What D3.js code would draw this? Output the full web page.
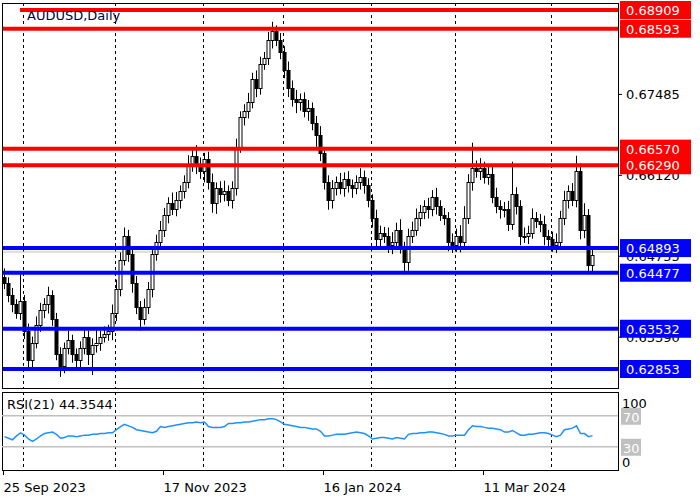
<!DOCTYPE html>
<html><head><meta charset="utf-8">
<script src="https://cdn.jsdelivr.net/npm/d3@7"></script>
<style>body{margin:0;background:#fff}svg{display:block}</style>
</head><body>
<svg id="c" width="700" height="500"></svg>
<script>
const closes=[0.6430,0.6410,0.6395,0.6380,0.6400,0.6350,0.6300,0.6330,0.6360,0.6385,
0.6395,0.6410,0.6370,0.6310,0.6290,0.6320,0.6335,0.6310,0.6300,0.6320,
0.6340,0.6310,0.6325,0.6330,0.6340,0.6345,0.6350,0.6380,0.6420,0.6470,
0.6510,0.6480,0.6430,0.6390,0.6370,0.6390,0.6420,0.6480,0.6500,0.6520,
0.6545,0.6565,0.6555,0.6570,0.6585,0.6600,0.6630,0.6645,0.6630,0.6620,
0.6640,0.6600,0.6565,0.6590,0.6580,0.6585,0.6570,0.6590,0.6660,0.6710,
0.6720,0.6735,0.6775,0.6760,0.6800,0.6810,0.6840,0.6855,0.6840,0.6820,
0.6790,0.6760,0.6740,0.6735,0.6740,0.6720,0.6725,0.6700,0.6680,0.6650,
0.6600,0.6570,0.6590,0.6600,0.6590,0.6605,0.6595,0.6590,0.6600,0.6610,
0.6595,0.6570,0.6540,0.6505,0.6515,0.6510,0.6495,0.6500,0.6520,0.6490,
0.6465,0.6510,0.6520,0.6540,0.6550,0.6560,0.6555,0.6575,0.6560,0.6545,
0.6540,0.6500,0.6495,0.6510,0.6500,0.6540,0.6600,0.6625,0.6620,0.6625,
0.6610,0.6615,0.6575,0.6560,0.6555,0.6555,0.6530,0.6580,0.6560,0.6510,
0.6510,0.6515,0.6540,0.6535,0.6530,0.6510,0.6505,0.6495,0.6500,0.6540,
0.6570,0.6585,0.6570,0.6620,0.6520,0.6545,0.6460,0.6478];
const firstOpen=0.6440;
// wick extensions in pips (0.0001)
const wickUp=[15,10,12,8,50,10,12,10,14,12,10,14,8,10,12,10,15,8,10,12,
14,10,12,25,10,12,10,14,16,12,14,10,8,12,10,14,12,10,12,15,
12,10,18,14,10,12,16,14,18,12,10,12,15,10,12,18,10,12,14,10,
12,16,10,14,12,10,14,16,10,12,10,14,12,16,10,12,14,10,12,15,
10,12,14,10,16,12,14,10,12,14,10,12,10,14,12,10,14,16,12,18,
10,12,14,16,12,10,14,12,16,10,12,10,14,12,18,20,14,42,12,16,
10,14,12,16,10,12,14,55,12,10,14,12,16,10,12,14,10,12,14,12,
16,10,14,25,12,20,10,12];
const wickDn=[10,12,14,10,12,14,16,12,10,12,14,16,12,10,18,12,10,14,16,12,
10,18,35,12,14,10,12,16,14,12,10,14,16,12,20,10,12,14,12,10,
12,14,10,12,14,12,10,12,16,14,20,12,16,18,14,12,10,14,12,10,
14,12,10,16,12,10,12,14,10,12,14,16,12,18,14,10,16,12,20,14,
12,16,14,12,10,14,12,16,10,12,14,12,16,14,18,12,14,16,12,10,
20,14,12,10,14,12,16,12,14,10,12,16,14,12,18,12,10,14,12,16,
12,14,10,12,16,14,12,10,14,16,12,14,10,12,14,16,18,12,14,10,
12,14,10,12,16,14,15,12];
const rsi=[43,41,39,44,48,45,40,37,40,44,47,48,49,46,41,42,44,44,43,44,
45,45,46,46,47,47,48,48,52,56,59,57,55,52,51,50,49,48,50,56,
55,56,57,58,59,60,61,61,62,61,62,56,55,55,55,56,60,60,61,61,
62,62,63,64,65,65,66,66,65,62,59,58,57,56,55,55,54,53,53,50,
44,44,45,46,46,46,47,48,49,48,47,44,40,41,42,42,41,40,42,41,
40,46,47,47,48,48,49,49,48,47,46,44,44,45,45,45,52,57,56,56,
55,54,54,53,52,49,49,51,48,45,45,46,46,47,48,48,47,45,43,45,
52,53,54,57,47,47,43,44.3544];
const priceLines=[
 {v:0.68909,c:"#ff0000",x0:20},{v:0.68593,c:"#ff0000",x0:2},
 {v:0.66570,c:"#ff0000",x0:2},{v:0.66290,c:"#ff0000",x0:2},
 {v:0.64893,c:"#0000ff",x0:2},{v:0.64477,c:"#0000ff",x0:2},
 {v:0.63532,c:"#0000ff",x0:2},{v:0.62853,c:"#0000ff",x0:2}];
const priceTicks=[0.67485,0.66120,0.64755,0.63390];
const gridIdx=[5,28,50,70,92,113,137];
const dateLabels=[{i:0,t:"25 Sep 2023"},{i:40,t:"17 Nov 2023"},{i:80,t:"16 Jan 2024"},{i:120,t:"11 Mar 2024"}];
const currentPrice=0.64827;

const svg=d3.select("#c");
const L=2,R=618,T=3,B=388,RT=392,RB=470;
const x=d3.scaleLinear().domain([0,1]).range([4,8]);
const y=d3.scaleLinear().domain([0.62853,0.68909]).range([369,10]);
const yr=d3.scaleLinear().domain([0,100]).range([470,392.5]);
const F="DejaVu Sans, Tahoma, sans-serif";

// grid
gridIdx.forEach(i=>{
 const gx=Math.round(x(i))-0.5;
 svg.append("line").attr("x1",gx).attr("x2",gx).attr("y1",T).attr("y2",B).attr("stroke","#000").attr("stroke-dasharray","3,3");
 svg.append("line").attr("x1",gx).attr("x2",gx).attr("y1",RT).attr("y2",RB).attr("stroke","#000").attr("stroke-dasharray","3,3");
});
// current price line
svg.append("line").attr("x1",L).attr("x2",R).attr("y1",y(currentPrice)).attr("y2",y(currentPrice)).attr("stroke","#c0c0c0");
// candles
const g=svg.append("g");
closes.forEach((c,i)=>{
 const o=i===0?firstOpen:closes[i-1];
 const hi=Math.max(o,c)+wickUp[i]/10000, lo=Math.min(o,c)-wickDn[i]/10000;
 const cx=Math.round(x(i))+0.5;
 g.append("line").attr("x1",cx).attr("x2",cx).attr("y1",y(hi)).attr("y2",y(lo)).attr("stroke","#000");
 const top=Math.round(y(Math.max(o,c))), bot=Math.round(y(Math.min(o,c)));
 g.append("rect").attr("x",cx-1.5).attr("y",top+0.5).attr("width",3).attr("height",Math.max(bot-top,1))
  .attr("fill",c>=o?"#fff":"#000").attr("stroke","#000");
});
// tick labels
priceTicks.forEach(v=>{
 svg.append("line").attr("x1",R).attr("x2",R+4).attr("y1",y(v)).attr("y2",y(v)).attr("stroke","#000");
 svg.append("text").attr("x",626).attr("y",y(v)+5).attr("font-family",F).attr("font-size",13).text(v.toFixed(5));
});
// price lines
priceLines.forEach(p=>{
 svg.append("line").attr("x1",p.x0).attr("x2",R).attr("y1",y(p.v)).attr("y2",y(p.v)).attr("stroke",p.c).attr("stroke-width",4);
 svg.append("rect").attr("x",620).attr("y",y(p.v)-9).attr("width",71).attr("height",18).attr("fill",p.c);
 svg.append("text").attr("x",626).attr("y",y(p.v)+5).attr("font-family",F).attr("font-size",13).attr("fill","#fff").text(p.v.toFixed(5));
});
// frames
svg.append("rect").attr("x",L+0.5).attr("y",T+0.5).attr("width",R-L).attr("height",B-T).attr("fill","none").attr("stroke","#000");
svg.append("rect").attr("x",L+0.5).attr("y",RT+0.5).attr("width",R-L).attr("height",RB-RT).attr("fill","none").attr("stroke","#000");
svg.append("text").attr("x",27).attr("y",20).attr("font-family",F).attr("font-size",13).attr("fill","#000040").text("AUDUSD,Daily");
// RSI
[70,30].forEach(v=>{
 svg.append("line").attr("x1",L).attr("x2",R).attr("y1",yr(v)).attr("y2",yr(v)).attr("stroke","#c0c0c0").attr("stroke-width",1.5);
 svg.append("rect").attr("x",621).attr("y",yr(v)-8).attr("width",20).attr("height",17).attr("fill","#c0c0c0");
 svg.append("text").attr("x",623).attr("y",yr(v)+6).attr("font-family",F).attr("font-size",13).attr("fill","#fff").text(v);
});
svg.append("path").datum(rsi).attr("fill","none").attr("stroke","#1e90ff").attr("stroke-width",1.5)
 .attr("d",d3.line().x((d,i)=>x(i)+0.5).y(d=>yr(d)));
svg.append("text").attr("x",622).attr("y",yr(100)+15).attr("font-family",F).attr("font-size",13).text("100");
svg.append("text").attr("x",622).attr("y",yr(0)-3).attr("font-family",F).attr("font-size",13).text("0");
svg.append("text").attr("x",7).attr("y",409).attr("font-family",F).attr("font-size",13).text("RSI(21) "+rsi[rsi.length-1].toFixed(4));
// date axis
dateLabels.forEach(d=>{
 const dx=Math.round(x(d.i))-0.5;
 svg.append("line").attr("x1",dx).attr("x2",dx).attr("y1",RB).attr("y2",RB+5).attr("stroke","#000");
 svg.append("text").attr("x",dx).attr("y",492).attr("font-family",F).attr("font-size",13).text(d.t);
});
</script></body></html>
